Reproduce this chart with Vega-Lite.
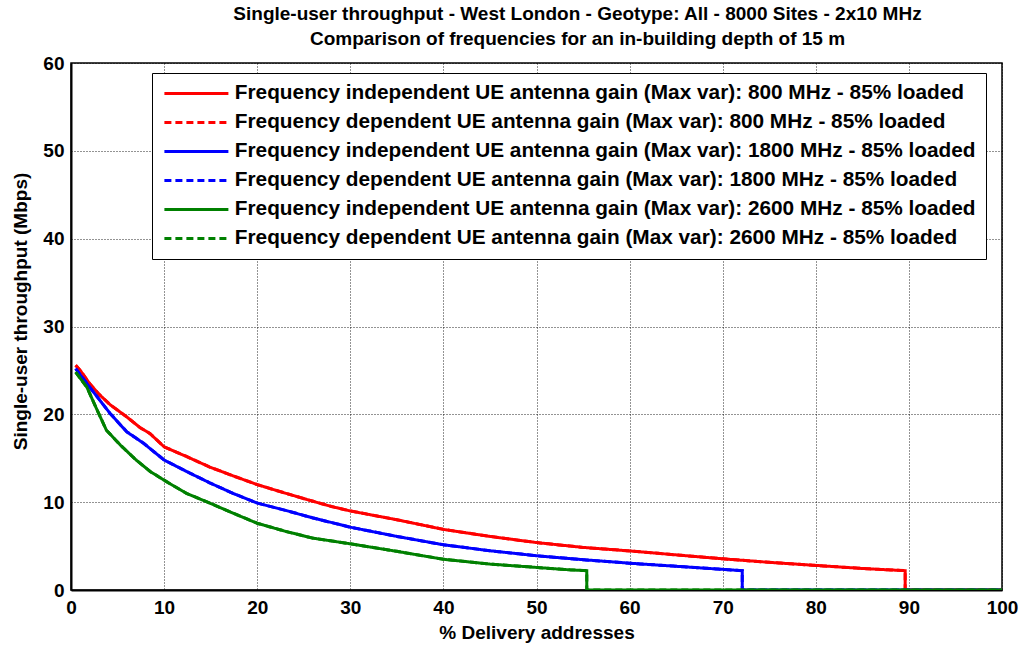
{
  "$schema": "https://vega.github.io/schema/vega-lite/v6.json",
  "width": 931,
  "height": 527,
  "autosize": {"type": "none"},
  "padding": {"left": 71, "top": 63, "right": 22, "bottom": 59},
  "background": "white",
  "title": {
    "text": ["Single-user throughput - West London - Geotype: All - 8000 Sites - 2x10 MHz", "Comparison of frequencies for an in-building depth of 15 m"],
    "font": "Liberation Sans",
    "fontSize": 19,
    "fontWeight": "bold",
    "color": "black",
    "anchor": "middle",
    "dx": 41,
    "offset": 5,
    "lineHeight": 25
  },
  "data": {
    "values": [
      {"s": "Frequency independent UE antenna gain (Max var): 800 MHz - 85% loaded", "i": 1, "x": 0.5, "y": 25.6},
      {"s": "Frequency independent UE antenna gain (Max var): 800 MHz - 85% loaded", "i": 2, "x": 1, "y": 25.0},
      {"s": "Frequency independent UE antenna gain (Max var): 800 MHz - 85% loaded", "i": 3, "x": 2, "y": 23.5},
      {"s": "Frequency independent UE antenna gain (Max var): 800 MHz - 85% loaded", "i": 4, "x": 3, "y": 22.3},
      {"s": "Frequency independent UE antenna gain (Max var): 800 MHz - 85% loaded", "i": 5, "x": 4.2, "y": 21.1},
      {"s": "Frequency independent UE antenna gain (Max var): 800 MHz - 85% loaded", "i": 6, "x": 6, "y": 19.7},
      {"s": "Frequency independent UE antenna gain (Max var): 800 MHz - 85% loaded", "i": 7, "x": 7.4, "y": 18.5},
      {"s": "Frequency independent UE antenna gain (Max var): 800 MHz - 85% loaded", "i": 8, "x": 8.5, "y": 17.8},
      {"s": "Frequency independent UE antenna gain (Max var): 800 MHz - 85% loaded", "i": 9, "x": 10, "y": 16.3},
      {"s": "Frequency independent UE antenna gain (Max var): 800 MHz - 85% loaded", "i": 10, "x": 12.4, "y": 15.2},
      {"s": "Frequency independent UE antenna gain (Max var): 800 MHz - 85% loaded", "i": 11, "x": 14.9, "y": 14.0},
      {"s": "Frequency independent UE antenna gain (Max var): 800 MHz - 85% loaded", "i": 12, "x": 17.4, "y": 13.0},
      {"s": "Frequency independent UE antenna gain (Max var): 800 MHz - 85% loaded", "i": 13, "x": 20, "y": 12.0},
      {"s": "Frequency independent UE antenna gain (Max var): 800 MHz - 85% loaded", "i": 14, "x": 23.1, "y": 11.0},
      {"s": "Frequency independent UE antenna gain (Max var): 800 MHz - 85% loaded", "i": 15, "x": 26, "y": 10.1},
      {"s": "Frequency independent UE antenna gain (Max var): 800 MHz - 85% loaded", "i": 16, "x": 28, "y": 9.5},
      {"s": "Frequency independent UE antenna gain (Max var): 800 MHz - 85% loaded", "i": 17, "x": 30, "y": 9.0},
      {"s": "Frequency independent UE antenna gain (Max var): 800 MHz - 85% loaded", "i": 18, "x": 35, "y": 8.0},
      {"s": "Frequency independent UE antenna gain (Max var): 800 MHz - 85% loaded", "i": 19, "x": 40, "y": 6.9},
      {"s": "Frequency independent UE antenna gain (Max var): 800 MHz - 85% loaded", "i": 20, "x": 45, "y": 6.1},
      {"s": "Frequency independent UE antenna gain (Max var): 800 MHz - 85% loaded", "i": 21, "x": 50, "y": 5.4},
      {"s": "Frequency independent UE antenna gain (Max var): 800 MHz - 85% loaded", "i": 22, "x": 55, "y": 4.85},
      {"s": "Frequency independent UE antenna gain (Max var): 800 MHz - 85% loaded", "i": 23, "x": 60, "y": 4.45},
      {"s": "Frequency independent UE antenna gain (Max var): 800 MHz - 85% loaded", "i": 24, "x": 65, "y": 4.0},
      {"s": "Frequency independent UE antenna gain (Max var): 800 MHz - 85% loaded", "i": 25, "x": 70, "y": 3.55},
      {"s": "Frequency independent UE antenna gain (Max var): 800 MHz - 85% loaded", "i": 26, "x": 75, "y": 3.15},
      {"s": "Frequency independent UE antenna gain (Max var): 800 MHz - 85% loaded", "i": 27, "x": 80, "y": 2.8},
      {"s": "Frequency independent UE antenna gain (Max var): 800 MHz - 85% loaded", "i": 28, "x": 85, "y": 2.45},
      {"s": "Frequency independent UE antenna gain (Max var): 800 MHz - 85% loaded", "i": 29, "x": 89.6, "y": 2.2},
      {"s": "Frequency independent UE antenna gain (Max var): 800 MHz - 85% loaded", "i": 30, "x": 89.6, "y": 0},
      {"s": "Frequency independent UE antenna gain (Max var): 800 MHz - 85% loaded", "i": 31, "x": 100, "y": 0},

      {"s": "Frequency dependent UE antenna gain (Max var): 800 MHz - 85% loaded", "i": 1, "x": 0.5, "y": 25.6},
      {"s": "Frequency dependent UE antenna gain (Max var): 800 MHz - 85% loaded", "i": 2, "x": 1, "y": 25.0},
      {"s": "Frequency dependent UE antenna gain (Max var): 800 MHz - 85% loaded", "i": 3, "x": 2, "y": 23.5},
      {"s": "Frequency dependent UE antenna gain (Max var): 800 MHz - 85% loaded", "i": 4, "x": 3, "y": 22.3},
      {"s": "Frequency dependent UE antenna gain (Max var): 800 MHz - 85% loaded", "i": 5, "x": 4.2, "y": 21.1},
      {"s": "Frequency dependent UE antenna gain (Max var): 800 MHz - 85% loaded", "i": 6, "x": 6, "y": 19.7},
      {"s": "Frequency dependent UE antenna gain (Max var): 800 MHz - 85% loaded", "i": 7, "x": 7.4, "y": 18.5},
      {"s": "Frequency dependent UE antenna gain (Max var): 800 MHz - 85% loaded", "i": 8, "x": 8.5, "y": 17.8},
      {"s": "Frequency dependent UE antenna gain (Max var): 800 MHz - 85% loaded", "i": 9, "x": 10, "y": 16.3},
      {"s": "Frequency dependent UE antenna gain (Max var): 800 MHz - 85% loaded", "i": 10, "x": 12.4, "y": 15.2},
      {"s": "Frequency dependent UE antenna gain (Max var): 800 MHz - 85% loaded", "i": 11, "x": 14.9, "y": 14.0},
      {"s": "Frequency dependent UE antenna gain (Max var): 800 MHz - 85% loaded", "i": 12, "x": 17.4, "y": 13.0},
      {"s": "Frequency dependent UE antenna gain (Max var): 800 MHz - 85% loaded", "i": 13, "x": 20, "y": 12.0},
      {"s": "Frequency dependent UE antenna gain (Max var): 800 MHz - 85% loaded", "i": 14, "x": 23.1, "y": 11.0},
      {"s": "Frequency dependent UE antenna gain (Max var): 800 MHz - 85% loaded", "i": 15, "x": 26, "y": 10.1},
      {"s": "Frequency dependent UE antenna gain (Max var): 800 MHz - 85% loaded", "i": 16, "x": 28, "y": 9.5},
      {"s": "Frequency dependent UE antenna gain (Max var): 800 MHz - 85% loaded", "i": 17, "x": 30, "y": 9.0},
      {"s": "Frequency dependent UE antenna gain (Max var): 800 MHz - 85% loaded", "i": 18, "x": 35, "y": 8.0},
      {"s": "Frequency dependent UE antenna gain (Max var): 800 MHz - 85% loaded", "i": 19, "x": 40, "y": 6.9},
      {"s": "Frequency dependent UE antenna gain (Max var): 800 MHz - 85% loaded", "i": 20, "x": 45, "y": 6.1},
      {"s": "Frequency dependent UE antenna gain (Max var): 800 MHz - 85% loaded", "i": 21, "x": 50, "y": 5.4},
      {"s": "Frequency dependent UE antenna gain (Max var): 800 MHz - 85% loaded", "i": 22, "x": 55, "y": 4.85},
      {"s": "Frequency dependent UE antenna gain (Max var): 800 MHz - 85% loaded", "i": 23, "x": 60, "y": 4.45},
      {"s": "Frequency dependent UE antenna gain (Max var): 800 MHz - 85% loaded", "i": 24, "x": 65, "y": 4.0},
      {"s": "Frequency dependent UE antenna gain (Max var): 800 MHz - 85% loaded", "i": 25, "x": 70, "y": 3.55},
      {"s": "Frequency dependent UE antenna gain (Max var): 800 MHz - 85% loaded", "i": 26, "x": 75, "y": 3.15},
      {"s": "Frequency dependent UE antenna gain (Max var): 800 MHz - 85% loaded", "i": 27, "x": 80, "y": 2.8},
      {"s": "Frequency dependent UE antenna gain (Max var): 800 MHz - 85% loaded", "i": 28, "x": 85, "y": 2.45},
      {"s": "Frequency dependent UE antenna gain (Max var): 800 MHz - 85% loaded", "i": 29, "x": 89.6, "y": 2.2},
      {"s": "Frequency dependent UE antenna gain (Max var): 800 MHz - 85% loaded", "i": 30, "x": 89.6, "y": 0},
      {"s": "Frequency dependent UE antenna gain (Max var): 800 MHz - 85% loaded", "i": 31, "x": 100, "y": 0},

      {"s": "Frequency independent UE antenna gain (Max var): 1800 MHz - 85% loaded", "i": 1, "x": 0.5, "y": 25.2},
      {"s": "Frequency independent UE antenna gain (Max var): 1800 MHz - 85% loaded", "i": 2, "x": 2, "y": 23.1},
      {"s": "Frequency independent UE antenna gain (Max var): 1800 MHz - 85% loaded", "i": 3, "x": 4.2, "y": 20.1},
      {"s": "Frequency independent UE antenna gain (Max var): 1800 MHz - 85% loaded", "i": 4, "x": 6, "y": 18.0},
      {"s": "Frequency independent UE antenna gain (Max var): 1800 MHz - 85% loaded", "i": 5, "x": 7.8, "y": 16.7},
      {"s": "Frequency independent UE antenna gain (Max var): 1800 MHz - 85% loaded", "i": 6, "x": 10, "y": 14.8},
      {"s": "Frequency independent UE antenna gain (Max var): 1800 MHz - 85% loaded", "i": 7, "x": 12.4, "y": 13.5},
      {"s": "Frequency independent UE antenna gain (Max var): 1800 MHz - 85% loaded", "i": 8, "x": 14.9, "y": 12.2},
      {"s": "Frequency independent UE antenna gain (Max var): 1800 MHz - 85% loaded", "i": 9, "x": 17.4, "y": 11.0},
      {"s": "Frequency independent UE antenna gain (Max var): 1800 MHz - 85% loaded", "i": 10, "x": 20, "y": 9.9},
      {"s": "Frequency independent UE antenna gain (Max var): 1800 MHz - 85% loaded", "i": 11, "x": 23.1, "y": 9.05},
      {"s": "Frequency independent UE antenna gain (Max var): 1800 MHz - 85% loaded", "i": 12, "x": 26, "y": 8.2},
      {"s": "Frequency independent UE antenna gain (Max var): 1800 MHz - 85% loaded", "i": 13, "x": 30, "y": 7.15},
      {"s": "Frequency independent UE antenna gain (Max var): 1800 MHz - 85% loaded", "i": 14, "x": 35, "y": 6.1},
      {"s": "Frequency independent UE antenna gain (Max var): 1800 MHz - 85% loaded", "i": 15, "x": 40, "y": 5.15},
      {"s": "Frequency independent UE antenna gain (Max var): 1800 MHz - 85% loaded", "i": 16, "x": 45, "y": 4.47},
      {"s": "Frequency independent UE antenna gain (Max var): 1800 MHz - 85% loaded", "i": 17, "x": 50, "y": 3.9},
      {"s": "Frequency independent UE antenna gain (Max var): 1800 MHz - 85% loaded", "i": 18, "x": 55, "y": 3.45},
      {"s": "Frequency independent UE antenna gain (Max var): 1800 MHz - 85% loaded", "i": 19, "x": 60, "y": 3.05},
      {"s": "Frequency independent UE antenna gain (Max var): 1800 MHz - 85% loaded", "i": 20, "x": 65, "y": 2.7},
      {"s": "Frequency independent UE antenna gain (Max var): 1800 MHz - 85% loaded", "i": 21, "x": 70, "y": 2.35},
      {"s": "Frequency independent UE antenna gain (Max var): 1800 MHz - 85% loaded", "i": 22, "x": 72.1, "y": 2.2},
      {"s": "Frequency independent UE antenna gain (Max var): 1800 MHz - 85% loaded", "i": 23, "x": 72.1, "y": 0},
      {"s": "Frequency independent UE antenna gain (Max var): 1800 MHz - 85% loaded", "i": 24, "x": 100, "y": 0},

      {"s": "Frequency dependent UE antenna gain (Max var): 1800 MHz - 85% loaded", "i": 1, "x": 0.5, "y": 25.2},
      {"s": "Frequency dependent UE antenna gain (Max var): 1800 MHz - 85% loaded", "i": 2, "x": 2, "y": 23.1},
      {"s": "Frequency dependent UE antenna gain (Max var): 1800 MHz - 85% loaded", "i": 3, "x": 4.2, "y": 20.1},
      {"s": "Frequency dependent UE antenna gain (Max var): 1800 MHz - 85% loaded", "i": 4, "x": 6, "y": 18.0},
      {"s": "Frequency dependent UE antenna gain (Max var): 1800 MHz - 85% loaded", "i": 5, "x": 7.8, "y": 16.7},
      {"s": "Frequency dependent UE antenna gain (Max var): 1800 MHz - 85% loaded", "i": 6, "x": 10, "y": 14.8},
      {"s": "Frequency dependent UE antenna gain (Max var): 1800 MHz - 85% loaded", "i": 7, "x": 12.4, "y": 13.5},
      {"s": "Frequency dependent UE antenna gain (Max var): 1800 MHz - 85% loaded", "i": 8, "x": 14.9, "y": 12.2},
      {"s": "Frequency dependent UE antenna gain (Max var): 1800 MHz - 85% loaded", "i": 9, "x": 17.4, "y": 11.0},
      {"s": "Frequency dependent UE antenna gain (Max var): 1800 MHz - 85% loaded", "i": 10, "x": 20, "y": 9.9},
      {"s": "Frequency dependent UE antenna gain (Max var): 1800 MHz - 85% loaded", "i": 11, "x": 23.1, "y": 9.05},
      {"s": "Frequency dependent UE antenna gain (Max var): 1800 MHz - 85% loaded", "i": 12, "x": 26, "y": 8.2},
      {"s": "Frequency dependent UE antenna gain (Max var): 1800 MHz - 85% loaded", "i": 13, "x": 30, "y": 7.15},
      {"s": "Frequency dependent UE antenna gain (Max var): 1800 MHz - 85% loaded", "i": 14, "x": 35, "y": 6.1},
      {"s": "Frequency dependent UE antenna gain (Max var): 1800 MHz - 85% loaded", "i": 15, "x": 40, "y": 5.15},
      {"s": "Frequency dependent UE antenna gain (Max var): 1800 MHz - 85% loaded", "i": 16, "x": 45, "y": 4.47},
      {"s": "Frequency dependent UE antenna gain (Max var): 1800 MHz - 85% loaded", "i": 17, "x": 50, "y": 3.9},
      {"s": "Frequency dependent UE antenna gain (Max var): 1800 MHz - 85% loaded", "i": 18, "x": 55, "y": 3.45},
      {"s": "Frequency dependent UE antenna gain (Max var): 1800 MHz - 85% loaded", "i": 19, "x": 60, "y": 3.05},
      {"s": "Frequency dependent UE antenna gain (Max var): 1800 MHz - 85% loaded", "i": 20, "x": 65, "y": 2.7},
      {"s": "Frequency dependent UE antenna gain (Max var): 1800 MHz - 85% loaded", "i": 21, "x": 70, "y": 2.35},
      {"s": "Frequency dependent UE antenna gain (Max var): 1800 MHz - 85% loaded", "i": 22, "x": 72.1, "y": 2.2},
      {"s": "Frequency dependent UE antenna gain (Max var): 1800 MHz - 85% loaded", "i": 23, "x": 72.1, "y": 0},
      {"s": "Frequency dependent UE antenna gain (Max var): 1800 MHz - 85% loaded", "i": 24, "x": 100, "y": 0},

      {"s": "Frequency independent UE antenna gain (Max var): 2600 MHz - 85% loaded", "i": 1, "x": 0.5, "y": 24.8},
      {"s": "Frequency independent UE antenna gain (Max var): 2600 MHz - 85% loaded", "i": 2, "x": 1.7, "y": 23.1},
      {"s": "Frequency independent UE antenna gain (Max var): 2600 MHz - 85% loaded", "i": 3, "x": 2.8, "y": 20.5},
      {"s": "Frequency independent UE antenna gain (Max var): 2600 MHz - 85% loaded", "i": 4, "x": 3.8, "y": 18.2},
      {"s": "Frequency independent UE antenna gain (Max var): 2600 MHz - 85% loaded", "i": 5, "x": 5.3, "y": 16.5},
      {"s": "Frequency independent UE antenna gain (Max var): 2600 MHz - 85% loaded", "i": 6, "x": 7.0, "y": 14.8},
      {"s": "Frequency independent UE antenna gain (Max var): 2600 MHz - 85% loaded", "i": 7, "x": 8.5, "y": 13.5},
      {"s": "Frequency independent UE antenna gain (Max var): 2600 MHz - 85% loaded", "i": 8, "x": 10, "y": 12.5},
      {"s": "Frequency independent UE antenna gain (Max var): 2600 MHz - 85% loaded", "i": 9, "x": 12.4, "y": 11.0},
      {"s": "Frequency independent UE antenna gain (Max var): 2600 MHz - 85% loaded", "i": 10, "x": 14.9, "y": 9.9},
      {"s": "Frequency independent UE antenna gain (Max var): 2600 MHz - 85% loaded", "i": 11, "x": 17.4, "y": 8.75},
      {"s": "Frequency independent UE antenna gain (Max var): 2600 MHz - 85% loaded", "i": 12, "x": 20, "y": 7.6},
      {"s": "Frequency independent UE antenna gain (Max var): 2600 MHz - 85% loaded", "i": 13, "x": 23.1, "y": 6.66},
      {"s": "Frequency independent UE antenna gain (Max var): 2600 MHz - 85% loaded", "i": 14, "x": 26, "y": 5.9},
      {"s": "Frequency independent UE antenna gain (Max var): 2600 MHz - 85% loaded", "i": 15, "x": 30, "y": 5.26},
      {"s": "Frequency independent UE antenna gain (Max var): 2600 MHz - 85% loaded", "i": 16, "x": 35, "y": 4.4},
      {"s": "Frequency independent UE antenna gain (Max var): 2600 MHz - 85% loaded", "i": 17, "x": 40, "y": 3.5},
      {"s": "Frequency independent UE antenna gain (Max var): 2600 MHz - 85% loaded", "i": 18, "x": 45, "y": 2.95},
      {"s": "Frequency independent UE antenna gain (Max var): 2600 MHz - 85% loaded", "i": 19, "x": 50, "y": 2.57},
      {"s": "Frequency independent UE antenna gain (Max var): 2600 MHz - 85% loaded", "i": 20, "x": 53.5, "y": 2.3},
      {"s": "Frequency independent UE antenna gain (Max var): 2600 MHz - 85% loaded", "i": 21, "x": 55.4, "y": 2.2},
      {"s": "Frequency independent UE antenna gain (Max var): 2600 MHz - 85% loaded", "i": 22, "x": 55.4, "y": 0},
      {"s": "Frequency independent UE antenna gain (Max var): 2600 MHz - 85% loaded", "i": 23, "x": 100, "y": 0},

      {"s": "Frequency dependent UE antenna gain (Max var): 2600 MHz - 85% loaded", "i": 1, "x": 0.5, "y": 24.8},
      {"s": "Frequency dependent UE antenna gain (Max var): 2600 MHz - 85% loaded", "i": 2, "x": 1.7, "y": 23.1},
      {"s": "Frequency dependent UE antenna gain (Max var): 2600 MHz - 85% loaded", "i": 3, "x": 2.8, "y": 20.5},
      {"s": "Frequency dependent UE antenna gain (Max var): 2600 MHz - 85% loaded", "i": 4, "x": 3.8, "y": 18.2},
      {"s": "Frequency dependent UE antenna gain (Max var): 2600 MHz - 85% loaded", "i": 5, "x": 5.3, "y": 16.5},
      {"s": "Frequency dependent UE antenna gain (Max var): 2600 MHz - 85% loaded", "i": 6, "x": 7.0, "y": 14.8},
      {"s": "Frequency dependent UE antenna gain (Max var): 2600 MHz - 85% loaded", "i": 7, "x": 8.5, "y": 13.5},
      {"s": "Frequency dependent UE antenna gain (Max var): 2600 MHz - 85% loaded", "i": 8, "x": 10, "y": 12.5},
      {"s": "Frequency dependent UE antenna gain (Max var): 2600 MHz - 85% loaded", "i": 9, "x": 12.4, "y": 11.0},
      {"s": "Frequency dependent UE antenna gain (Max var): 2600 MHz - 85% loaded", "i": 10, "x": 14.9, "y": 9.9},
      {"s": "Frequency dependent UE antenna gain (Max var): 2600 MHz - 85% loaded", "i": 11, "x": 17.4, "y": 8.75},
      {"s": "Frequency dependent UE antenna gain (Max var): 2600 MHz - 85% loaded", "i": 12, "x": 20, "y": 7.6},
      {"s": "Frequency dependent UE antenna gain (Max var): 2600 MHz - 85% loaded", "i": 13, "x": 23.1, "y": 6.66},
      {"s": "Frequency dependent UE antenna gain (Max var): 2600 MHz - 85% loaded", "i": 14, "x": 26, "y": 5.9},
      {"s": "Frequency dependent UE antenna gain (Max var): 2600 MHz - 85% loaded", "i": 15, "x": 30, "y": 5.26},
      {"s": "Frequency dependent UE antenna gain (Max var): 2600 MHz - 85% loaded", "i": 16, "x": 35, "y": 4.4},
      {"s": "Frequency dependent UE antenna gain (Max var): 2600 MHz - 85% loaded", "i": 17, "x": 40, "y": 3.5},
      {"s": "Frequency dependent UE antenna gain (Max var): 2600 MHz - 85% loaded", "i": 18, "x": 45, "y": 2.95},
      {"s": "Frequency dependent UE antenna gain (Max var): 2600 MHz - 85% loaded", "i": 19, "x": 50, "y": 2.57},
      {"s": "Frequency dependent UE antenna gain (Max var): 2600 MHz - 85% loaded", "i": 20, "x": 53.5, "y": 2.3},
      {"s": "Frequency dependent UE antenna gain (Max var): 2600 MHz - 85% loaded", "i": 21, "x": 55.4, "y": 2.2},
      {"s": "Frequency dependent UE antenna gain (Max var): 2600 MHz - 85% loaded", "i": 22, "x": 55.4, "y": 0},
      {"s": "Frequency dependent UE antenna gain (Max var): 2600 MHz - 85% loaded", "i": 23, "x": 100, "y": 0}
    ]
  },
  "mark": {"type": "line", "strokeWidth": 3, "strokeCap": "butt", "clip": true},
  "encoding": {
    "x": {
      "field": "x", "type": "quantitative",
      "scale": {"domain": [0, 100], "nice": false, "zero": false},
      "axis": {"values": [0, 10, 20, 30, 40, 50, 60, 70, 80, 90, 100], "title": "% Delivery addresses", "titlePadding": 6, "labelPadding": 8, "labelFlush": false}
    },
    "y": {
      "field": "y", "type": "quantitative",
      "scale": {"domain": [0, 60], "nice": false},
      "axis": {"values": [0, 10, 20, 30, 40, 50, 60], "title": "Single-user throughput (Mbps)", "titlePadding": 12, "labelPadding": 7, "titleY": 248, "labelFlush": false}
    },
    "order": {"field": "i", "type": "quantitative"},
    "color": {
      "field": "s", "type": "nominal",
      "scale": {
        "domain": [
          "Frequency independent UE antenna gain (Max var): 800 MHz - 85% loaded",
          "Frequency dependent UE antenna gain (Max var): 800 MHz - 85% loaded",
          "Frequency independent UE antenna gain (Max var): 1800 MHz - 85% loaded",
          "Frequency dependent UE antenna gain (Max var): 1800 MHz - 85% loaded",
          "Frequency independent UE antenna gain (Max var): 2600 MHz - 85% loaded",
          "Frequency dependent UE antenna gain (Max var): 2600 MHz - 85% loaded"
        ],
        "range": ["#ff0000", "#ff0000", "#0000ff", "#0000ff", "#008000", "#008000"]
      },
      "legend": {"title": null}
    },
    "strokeDash": {
      "field": "s", "type": "nominal",
      "scale": {
        "domain": [
          "Frequency independent UE antenna gain (Max var): 800 MHz - 85% loaded",
          "Frequency dependent UE antenna gain (Max var): 800 MHz - 85% loaded",
          "Frequency independent UE antenna gain (Max var): 1800 MHz - 85% loaded",
          "Frequency dependent UE antenna gain (Max var): 1800 MHz - 85% loaded",
          "Frequency independent UE antenna gain (Max var): 2600 MHz - 85% loaded",
          "Frequency dependent UE antenna gain (Max var): 2600 MHz - 85% loaded"
        ],
        "range": [[1, 0], [7, 4], [1, 0], [7, 4], [1, 0], [7, 4]]
      },
      "legend": {"title": null}
    }
  },
  "config": {
    "font": "Liberation Sans",
    "view": {"stroke": "black", "strokeWidth": 1.5},
    "axis": {
      "labelFont": "Liberation Sans",
      "labelFontSize": 19,
      "labelFontWeight": "bold",
      "labelColor": "black",
      "titleFont": "Liberation Sans",
      "titleFontSize": 19,
      "titleFontWeight": "bold",
      "titleColor": "black",
      "domainColor": "black",
      "domainWidth": 2,
      "ticks": false,
      "grid": true,
      "gridColor": "black",
      "gridDash": [1, 2],
      "gridOpacity": 0.85,
      "gridWidth": 1
    },
    "legend": {
      "orient": "none",
      "legendX": 81,
      "legendY": 10,
      "strokeColor": "black",
      "fillColor": "white",
      "padding": 10,
      "symbolType": "M-4,0H4",
      "symbolSize": 256,
      "symbolOffset": 24,
      "symbolStrokeWidth": 3,
      "labelFont": "Liberation Sans",
      "labelFontSize": 20.8,
      "labelFontWeight": "bold",
      "labelColor": "black",
      "labelLimit": 1000,
      "rowPadding": 7,
      "labelOffset": 28
    }
  }
}
